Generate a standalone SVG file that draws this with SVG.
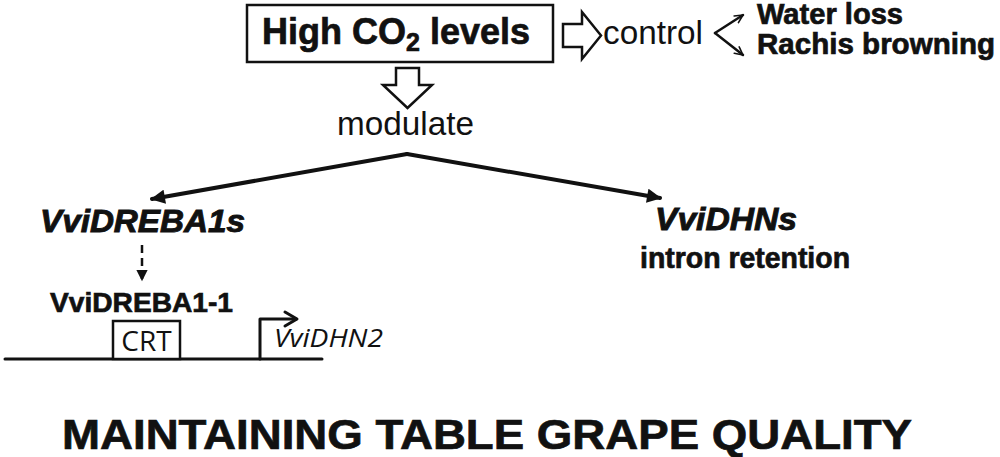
<svg xmlns="http://www.w3.org/2000/svg" width="1000" height="457" viewBox="0 0 1000 457">
<style>
.b{font-family:"Liberation Sans",Arial,sans-serif;font-weight:bold;fill:#111;stroke:#111;stroke-width:0.7}
.bi{font-family:"Liberation Sans",Arial,sans-serif;font-weight:bold;font-style:italic;fill:#111;stroke:#111;stroke-width:0.9}
.r{font-family:"Liberation Sans",Arial,sans-serif;fill:#111}
.os{font-family:"Open Sans","Liberation Sans",sans-serif;fill:#111}
.ln{fill:none;stroke:#111;stroke-linecap:round;stroke-linejoin:round}
.hol{fill:#fff;stroke:#111;stroke-width:2.5;stroke-linejoin:miter}
</style>
<defs>
<marker id="fa" viewBox="0 0 10 10" refX="9" refY="5" markerWidth="4" markerHeight="3.6" orient="auto" markerUnits="strokeWidth">
<path d="M0,0 L10,5 L0,10 Z" fill="#111"/>
</marker>
<marker id="fs" viewBox="0 0 10 10" refX="9" refY="5" markerWidth="5" markerHeight="4.5" orient="auto" markerUnits="strokeWidth">
<path d="M0,0 L10,5 L0,10 Z" fill="#111"/>
</marker>
<marker id="oa" viewBox="0 0 10 10" refX="9" refY="5" markerWidth="4" markerHeight="4" orient="auto" markerUnits="strokeWidth">
<path d="M1,1 L9,5 L1,9" fill="none" stroke="#111" stroke-width="1.6" stroke-linecap="round" stroke-linejoin="round"/>
</marker>
</defs>

<g id="high-co2">
<rect x="247" y="5" width="306" height="57" fill="#fff" stroke="#111" stroke-width="2.5"/>
<text class="b" x="262" y="44" font-size="36">High CO<tspan font-size="25" dy="7">2</tspan><tspan dy="-7"> levels</tspan></text>
</g>

<g id="control">
<text class="r" x="603" y="44" font-size="34" textLength="100" lengthAdjust="spacingAndGlyphs">control</text>
</g>

<g id="effects">
<text class="b" x="757" y="24" font-size="29" textLength="146" lengthAdjust="spacingAndGlyphs">Water loss</text>
<text class="b" x="757" y="54" font-size="29" textLength="238" lengthAdjust="spacingAndGlyphs">Rachis browning</text>
</g>

<g id="modulate">
<text class="r" x="337" y="135" font-size="33" textLength="137" lengthAdjust="spacingAndGlyphs">modulate</text>
</g>

<g id="vvidreba1s">
<text class="bi" x="40" y="232" font-size="31" textLength="205" lengthAdjust="spacingAndGlyphs">VviDREBA1s</text>
</g>

<g id="vvidhns">
<text class="bi" x="655" y="230" font-size="31" textLength="142" lengthAdjust="spacingAndGlyphs">VviDHNs</text>
<text class="b" x="640" y="268" font-size="29" textLength="210" lengthAdjust="spacingAndGlyphs">intron retention</text>
</g>

<g id="vvidreba1-1">
<text class="b" x="50" y="312" font-size="28" textLength="183" lengthAdjust="spacingAndGlyphs">VviDREBA1-1</text>
</g>

<g id="promoter">
<path class="ln" d="M5,359 H322" stroke-width="3"/>
<rect x="113" y="321" width="67" height="38" fill="#fff" stroke="#111" stroke-width="2.5"/>
<text class="os" x="146.5" y="351" font-size="28" text-anchor="middle">CRT</text>
<text class="os" x="274" y="347" font-size="26" font-style="italic" textLength="109" lengthAdjust="spacingAndGlyphs">VviDHN2</text>
</g>

<g id="title">
<text class="b" x="62" y="449" font-size="43" textLength="850" lengthAdjust="spacingAndGlyphs">MAINTAINING TABLE GRAPE QUALITY</text>
</g>

<g id="connectors">
<polygon class="hol" points="563,24 582,24 582,12 601,35.5 582,59 582,47 563,47"/>
<polygon class="hol" points="396,68 419,68 419,85 432,85 407.5,108 383,85 396,85"/>
<path class="ln" d="M715,33 L743,15" stroke-width="2.5" marker-end="url(#oa)"/>
<path class="ln" d="M715,33 L743,55" stroke-width="2.5" marker-end="url(#oa)"/>
<path class="ln" d="M407,154 L152,199" stroke-width="4" marker-end="url(#fa)"/>
<path class="ln" d="M407,154 L660,198" stroke-width="4" marker-end="url(#fa)"/>
<path d="M142,245 V280" fill="none" stroke="#111" stroke-width="2.5" stroke-dasharray="8,5" marker-end="url(#fs)"/>
<path class="ln" d="M260,359 V319 H296" stroke-width="3"/>
<path class="ln" d="M285,312 L297,319 L285,326" stroke-width="3"/>
</g>
</svg>
